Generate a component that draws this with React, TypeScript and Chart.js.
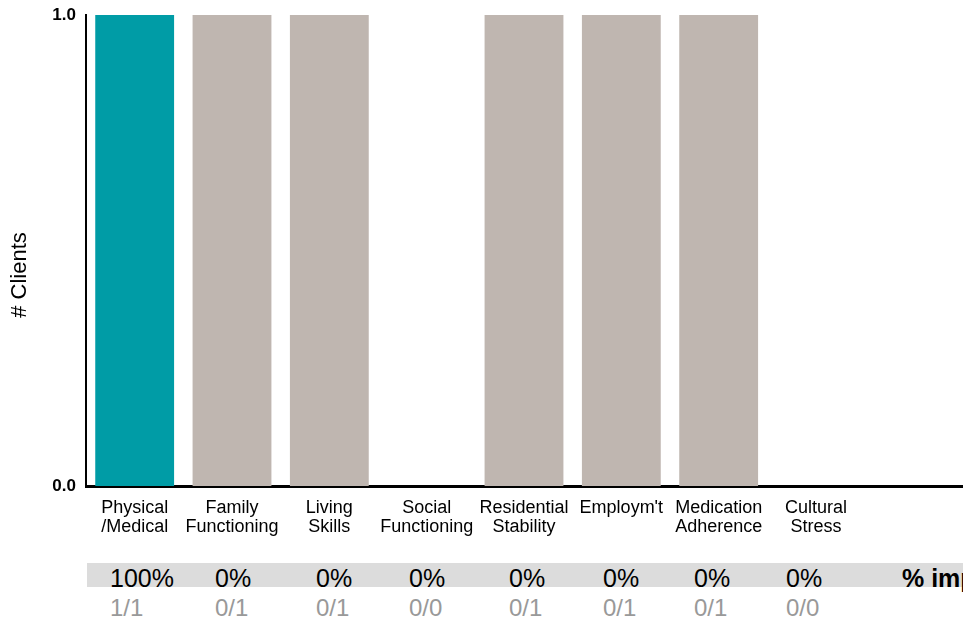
import React, { useEffect, useRef } from "react";
import { Chart, registerables } from "chart.js";

Chart.register(...registerables);

// ---- data ----
const categories: (string | string[])[] = [
  ["Physical", "/Medical"],
  ["Family", "Functioning"],
  ["Living", "Skills"],
  ["Social", "Functioning"],
  ["Residential", "Stability"],
  ["Employm't"],
  ["Medication", "Adherence"],
  ["Cultural", "Stress"],
  "",
];
const clientCounts: (number | null)[] = [1, 1, 1, 0, 1, 1, 1, 0, null];
const highlightedCategory = 0;
const yTickValues = [0, 1];
const yAxisTitle = "# Clients";
const improvedPercents = ["100%", "0%", "0%", "0%", "0%", "0%", "0%", "0%"];
const improvedFractions = ["1/1", "0/1", "0/1", "0/0", "0/1", "0/1", "0/1", "0/0"];
const improvedHeader = "% improved";

// ---- styles / layout ----
const TEAL = "#009ca6";
const TAUPE = "#bfb6b0";
const FONT = "'Liberation Sans', Arial, Helvetica, sans-serif";
const COL_LEFTS = [110, 215, 316, 409, 509, 603, 694, 786];
const HEADER_LEFT = 902;

const yTitlePlugin = {
  id: "yTitlePlugin",
  afterDraw(chart: any) {
    const ctx = chart.ctx as CanvasRenderingContext2D;
    ctx.save();
    ctx.translate(20, 275);
    ctx.rotate(-Math.PI / 2);
    ctx.font = `22px ${FONT}`;
    ctx.fillStyle = "#000";
    ctx.textAlign = "center";
    ctx.textBaseline = "middle";
    ctx.fillText(yAxisTitle, 0, 0);
    ctx.restore();
  },
};

export default function App() {
  const canvasRef = useRef<HTMLCanvasElement | null>(null);

  useEffect(() => {
    if (!canvasRef.current) return;
    const chart = new Chart(canvasRef.current, {
      type: "bar",
      data: {
        labels: categories as any,
        datasets: [
          {
            data: clientCounts,
            backgroundColor: clientCounts.map((_, i) =>
              i === highlightedCategory ? TEAL : TAUPE
            ),
            borderWidth: 0,
            barPercentage: 0.81,
            categoryPercentage: 1,
          },
        ],
      },
      options: {
        responsive: false,
        animation: false,
        devicePixelRatio: 1,
        layout: { padding: { top: 15, right: 1, left: 0, bottom: 0 } },
        plugins: {
          legend: { display: false },
          tooltip: { enabled: false },
        },
        scales: {
          x: {
            type: "category",
            offset: true,
            z: 1,
            grid: { display: false, drawTicks: false },
            border: { display: true, color: "#000", width: 3 },
            ticks: {
              color: "#000",
              font: { family: FONT, size: 18, lineHeight: 1.07 },
              padding: 12,
              maxRotation: 0,
              minRotation: 0,
              autoSkip: false,
            },
            afterFit: (s: any) => {
              s.height = 70;
            },
          },
          y: {
            min: 0,
            max: 1,
            grid: { display: false, drawTicks: false },
            border: { display: true, color: "#000", width: 2 },
            afterBuildTicks: (s: any) => {
              s.ticks = yTickValues.map((v) => ({ value: v }));
            },
            ticks: {
              color: "#000",
              font: { family: FONT, size: 17, weight: "bold", lineHeight: 0.6 },
              padding: 10,
              callback: (v: any) => Number(v).toFixed(1),
            },
            afterFit: (s: any) => {
              s.width = 86;
            },
          },
        },
      } as any,
      plugins: [yTitlePlugin],
    });
    return () => chart.destroy();
  }, []);

  return (
    <div
      style={{
        position: "absolute",
        left: 0,
        top: 0,
        width: 963,
        height: 622,
        overflow: "hidden",
        background: "#fff",
        fontFamily: FONT,
      }}
    >
      <canvas
        ref={canvasRef}
        width={963}
        height={556}
        style={{ position: "absolute", left: 0, top: 0, width: 963, height: 556 }}
      />
      <div
        style={{
          position: "absolute",
          left: 87,
          top: 563,
          width: 876,
          height: 24,
          background: "#dcdcdc",
        }}
      />
      {improvedPercents.map((p, i) => (
        <div
          key={"p" + i}
          style={{
            position: "absolute",
            left: COL_LEFTS[i],
            top: 566,
            fontSize: 25,
            lineHeight: "25px",
            whiteSpace: "nowrap",
            color: "#000",
          }}
        >
          {p}
        </div>
      ))}
      <div
        style={{
          position: "absolute",
          left: HEADER_LEFT,
          top: 566,
          fontSize: 25,
          lineHeight: "25px",
          fontWeight: "bold",
          whiteSpace: "nowrap",
          color: "#000",
        }}
      >
        {improvedHeader}
      </div>
      {improvedFractions.map((f, i) => (
        <div
          key={"f" + i}
          style={{
            position: "absolute",
            left: COL_LEFTS[i],
            top: 596,
            fontSize: 24,
            lineHeight: "24px",
            whiteSpace: "nowrap",
            color: "#999",
          }}
        >
          {f}
        </div>
      ))}
    </div>
  );
}
